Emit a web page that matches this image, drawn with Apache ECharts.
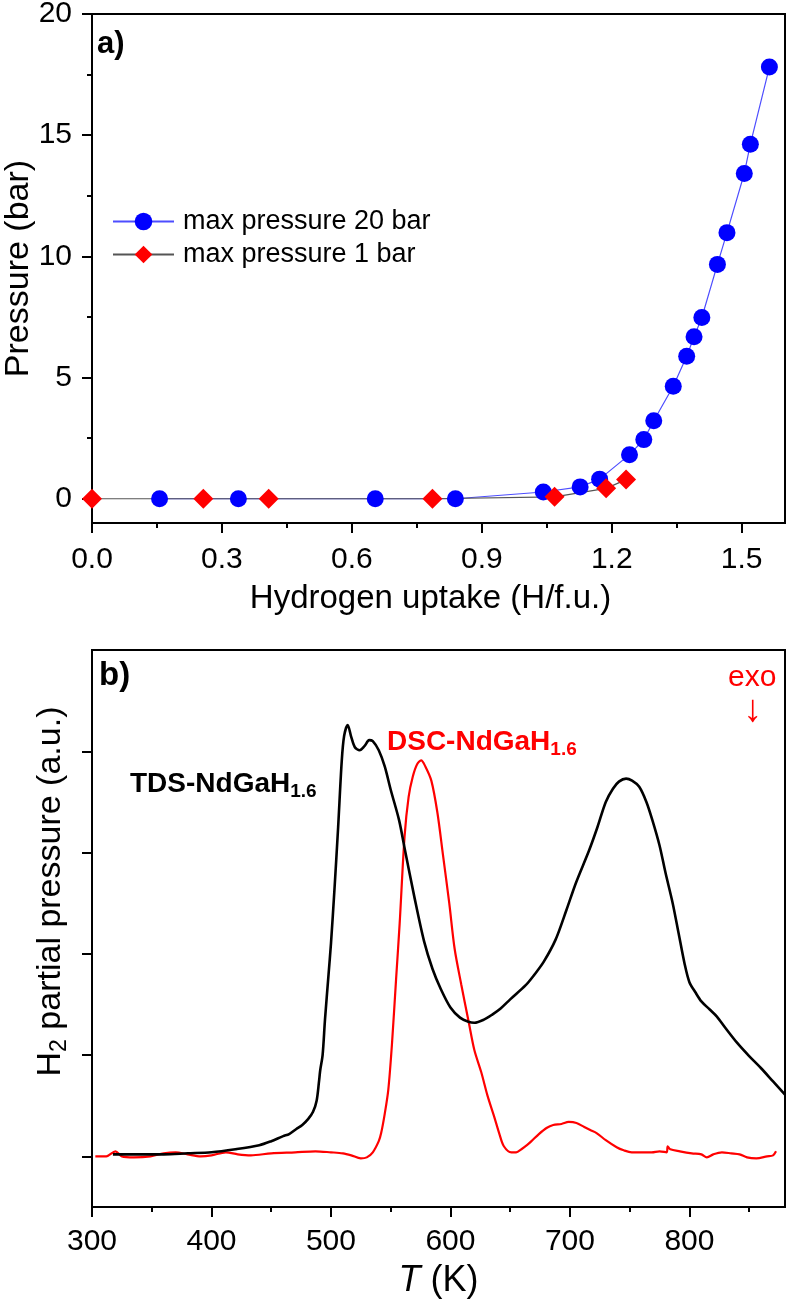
<!DOCTYPE html>
<html><head><meta charset="utf-8">
<script src="https://cdn.jsdelivr.net/npm/echarts@6/dist/echarts.min.js"></script>
<style>html,body{margin:0;padding:0;background:#fff}#c{width:787px;height:1299px}</style>
</head><body><div id="c"></div>
<script>
const FONT = 'Liberation Sans, Arial, Helvetica, sans-serif';

// ---------- Panel a) ----------
const uptake20   = [0.156, 0.338, 0.654, 0.839, 1.042, 1.127, 1.172, 1.241, 1.274, 1.297, 1.342, 1.373, 1.390, 1.408, 1.444, 1.466, 1.506, 1.520, 1.564];
const pressure20 = [0, 0, 0, 0, 0.28, 0.49, 0.81, 1.82, 2.44, 3.22, 4.64, 5.88, 6.68, 7.48, 9.67, 10.98, 13.42, 14.63, 17.81];
const uptake1    = [0.0, 0.257, 0.408, 0.786, 1.068, 1.187, 1.233];
const pressure1  = [0, 0, 0, 0, 0.08, 0.43, 0.79];
const xTicksA = [0, 0.3, 0.6, 0.9, 1.2, 1.5];
const xMinorA = [0.15, 0.45, 0.75, 1.05, 1.35];
const yTicksA = [0, 5, 10, 15, 20];
const yMinorA = [2.5, 7.5, 12.5, 17.5];

// ---------- Panel b) ----------
const tdsT = [317.5, 330, 340, 360, 380, 400, 420, 440, 450, 460, 465, 471, 476, 481, 485, 488, 490, 491, 493, 495, 498, 500, 503, 506, 509, 511, 514, 517, 520, 524, 528, 532, 535, 540, 545, 550, 557, 562, 570, 578, 585, 592, 600, 608, 615, 620, 628, 635, 642, 650, 663, 670, 678, 688, 697, 705, 716, 723, 730, 736, 741, 747, 752, 758, 764, 769, 775, 780, 786, 791, 796, 800, 805, 810, 817, 823, 830, 840, 850, 860, 870, 880];
const tdsP = [0.02, 0.02, 0.02, 0.02, 0.03, 0.04, 0.07, 0.11, 0.15, 0.20, 0.22, 0.27, 0.31, 0.37, 0.44, 0.55, 0.74, 0.85, 1.00, 1.35, 1.80, 2.10, 2.65, 3.25, 3.90, 4.15, 4.26, 4.14, 4.04, 4.01, 4.05, 4.11, 4.10, 4.01, 3.85, 3.62, 3.32, 3.02, 2.55, 2.12, 1.85, 1.65, 1.47, 1.37, 1.33, 1.32, 1.35, 1.40, 1.46, 1.55, 1.69, 1.79, 1.92, 2.14, 2.43, 2.70, 3.02, 3.25, 3.50, 3.63, 3.70, 3.73, 3.71, 3.65, 3.50, 3.32, 3.07, 2.80, 2.50, 2.20, 1.90, 1.72, 1.62, 1.53, 1.45, 1.38, 1.27, 1.12, 0.99, 0.87, 0.74, 0.61];
const dscT = [302.8, 312, 319.6, 325, 335, 349, 360, 370, 380, 391, 400, 412, 422, 433, 450, 470, 487, 500, 510, 517, 525, 530, 535, 540, 542, 545, 548, 551, 554.5, 557.5, 561.6, 565, 568.5, 572, 575.5, 579, 584, 589, 593.6, 599, 603.5, 609, 615.4, 620, 625.8, 631, 636.4, 641, 644.7, 651, 655, 659.4, 664, 667.8, 674, 680.4, 686, 692.9, 699, 705.5, 712, 717, 722.3, 730, 739.1, 745, 751.7, 760, 768.5, 775, 781, 781.8, 784, 792, 802, 810, 814.6, 820, 827.2, 835, 842, 848.2, 856, 865, 870, 872.5];
const dscP = [0.00, 0.00, 0.05, 0.00, -0.01, 0.00, 0.03, 0.04, 0.02, 0.00, 0.01, 0.04, 0.02, 0.01, 0.03, 0.04, 0.05, 0.04, 0.03, 0.01, -0.02, -0.01, 0.04, 0.15, 0.23, 0.42, 0.66, 1.10, 1.75, 2.30, 3.16, 3.55, 3.75, 3.87, 3.91, 3.85, 3.71, 3.40, 2.99, 2.50, 2.05, 1.70, 1.32, 1.05, 0.83, 0.60, 0.40, 0.22, 0.10, 0.04, 0.04, 0.07, 0.11, 0.15, 0.22, 0.28, 0.31, 0.32, 0.34, 0.33, 0.29, 0.26, 0.23, 0.16, 0.09, 0.06, 0.04, 0.04, 0.04, 0.05, 0.04, 0.10, 0.07, 0.05, 0.03, 0.02, -0.01, 0.02, 0.04, 0.03, 0.02, -0.01, -0.02, 0.00, 0.01, 0.05];
const xTicksB = [300, 400, 500, 600, 700, 800];
const xMinorB = [350, 450, 550, 650, 750, 850];
const yTicksB = [0, 1, 2, 3, 4];

const zip = (a, b) => a.map((v, i) => [v, b[i]]);

const axisLineStyle = { show: true, onZero: false, lineStyle: { color: '#000', width: 2 } };
const majorTick = vals => ({ show: true, inside: false, length: 10, customValues: vals, lineStyle: { color: '#000', width: 2 } });
const minorTickAxis = (grid, min, max, vals, pos) => ({
  type: 'value', gridIndex: grid, min: min, max: max, position: pos,
  axisLine: { show: false, onZero: false },
  axisTick: { show: true, inside: false, length: 5, customValues: vals, lineStyle: { color: '#000', width: 2 } },
  axisLabel: { show: false }, splitLine: { show: false }
});
const labelStyle = { color: '#000', fontSize: 30, fontFamily: FONT };

const option = {
  animation: false,
  backgroundColor: '#fff',
  grid: [
    { left: 92, right: 2, top: 14, height: 509, show: true, borderColor: '#000', borderWidth: 2, backgroundColor: 'transparent', containLabel: false, outerBoundsMode: 'none' },
    { left: 92, right: 2, top: 650, height: 557, show: true, borderColor: '#000', borderWidth: 2, backgroundColor: 'transparent', containLabel: false, outerBoundsMode: 'none' }
  ],
  xAxis: [
    { type: 'value', gridIndex: 0, min: 0, max: 1.6, position: 'bottom',
      axisLine: axisLineStyle, axisTick: majorTick(xTicksA),
      axisLabel: Object.assign({ customValues: xTicksA, margin: 22, formatter: v => v.toFixed(1) }, labelStyle),
      splitLine: { show: false },
      name: 'Hydrogen uptake (H/f.u.)', nameLocation: 'middle', nameGap: 59,
      nameTextStyle: { color: '#000', fontSize: 33, fontFamily: FONT, padding: [0, 16, 0, 0] } },
    minorTickAxis(0, 0, 1.6, xMinorA, 'bottom'),
    { type: 'value', gridIndex: 1, min: 300, max: 880, position: 'bottom',
      axisLine: axisLineStyle, axisTick: majorTick(xTicksB),
      axisLabel: Object.assign({ customValues: xTicksB, margin: 20 }, labelStyle),
      splitLine: { show: false },
      name: '{i|T} (K)', nameLocation: 'middle', nameGap: 56,
      nameTextStyle: { color: '#000', fontSize: 36, fontFamily: FONT,
        rich: { i: { fontStyle: 'italic', fontSize: 36, fontFamily: FONT, color: '#000' } } } },
    minorTickAxis(1, 300, 880, xMinorB, 'bottom')
  ],
  yAxis: [
    { type: 'value', gridIndex: 0, min: -1, max: 20, position: 'left',
      axisLine: axisLineStyle, axisTick: majorTick(yTicksA),
      axisLabel: Object.assign({ customValues: yTicksA, margin: 20, align: 'right' }, labelStyle),
      splitLine: { show: false },
      name: 'Pressure (bar)', nameLocation: 'middle', nameGap: 56, nameMoveOverlap: false,
      nameTextStyle: { color: '#000', fontSize: 34, fontFamily: FONT } },
    minorTickAxis(0, -1, 20, yMinorA, 'left'),
    { type: 'value', gridIndex: 1, min: -0.5, max: 5, position: 'left',
      axisLine: axisLineStyle, axisTick: majorTick(yTicksB),
      axisLabel: { show: false },
      splitLine: { show: false },
      name: '{n|H}{s|2}{n| partial pressure (a.u.)}', nameLocation: 'middle', nameGap: 21,
      nameTextStyle: { color: '#000', fontSize: 34, fontFamily: FONT, padding: [0, 0, 0, 74],
        rich: {
          n: { fontSize: 34, fontFamily: FONT, color: '#000', lineHeight: 40, verticalAlign: 'middle' },
          s: { fontSize: 23, fontFamily: FONT, color: '#000', lineHeight: 18, verticalAlign: 'bottom' }
        } } }
  ],
  legend: {
    orient: 'vertical', left: 112, top: 208, padding: 0, itemWidth: 61, itemHeight: 22, itemGap: 6,
    data: ['max pressure 20 bar', 'max pressure 1 bar'],
    textStyle: { color: '#000', fontSize: 27, fontFamily: FONT, padding: [0, 0, 0, 4] }
  },
  series: [
    { name: 'max pressure 20 bar', type: 'line', xAxisIndex: 0, yAxisIndex: 0,
      data: zip(uptake20, pressure20), symbol: 'circle', symbolSize: 17,
      itemStyle: { color: '#0000ff' }, lineStyle: { color: '#4d4dff', width: 1.2 } },
    { name: 'max pressure 1 bar', type: 'line', xAxisIndex: 0, yAxisIndex: 0,
      data: zip(uptake1, pressure1), symbol: 'diamond', symbolSize: 20,
      itemStyle: { color: '#ff0000' }, lineStyle: { color: '#555', width: 1.2 } },
    { name: 'DSC-NdGaH1.6', type: 'line', xAxisIndex: 2, yAxisIndex: 2,
      data: zip(dscT, dscP), showSymbol: false, symbol: 'none', smooth: 0.3,
      lineStyle: { color: '#ff0000', width: 2.2 } },
    { name: 'TDS-NdGaH1.6', type: 'line', xAxisIndex: 2, yAxisIndex: 2,
      data: zip(tdsT, tdsP), showSymbol: false, symbol: 'none', smooth: 0.3,
      lineStyle: { color: '#000', width: 2.6 } }
  ],
  graphic: [
    { type: 'text', left: 97, top: 29, style: { text: 'a)', font: 'bold 31px ' + FONT, fill: '#000' } },
    { type: 'text', left: 99, top: 659, style: { text: 'b)', font: 'bold 33px ' + FONT, fill: '#000' } },
    { type: 'text', left: 130, top: 770, style: {
        text: '{m|TDS-NdGaH}{s|1.6}', fill: '#000',
        rich: { m: { font: 'bold 28px ' + FONT, fill: '#000', lineHeight: 34, verticalAlign: 'middle' },
                s: { font: 'bold 19px ' + FONT, fill: '#000', lineHeight: 12, verticalAlign: 'bottom' } } } },
    { type: 'text', left: 387, top: 728, style: {
        text: '{m|DSC-NdGaH}{s|1.6}', fill: '#ff0000',
        rich: { m: { font: 'bold 28px ' + FONT, fill: '#ff0000', lineHeight: 34, verticalAlign: 'middle' },
                s: { font: 'bold 19px ' + FONT, fill: '#ff0000', lineHeight: 12, verticalAlign: 'bottom' } } } },
    { type: 'text', left: 728, top: 663, style: { text: 'exo', font: '30px ' + FONT, fill: '#ff0000' } },
    { type: 'text', left: 743, top: 692, style: { text: '↓', font: '38px ' + FONT, fill: '#ff0000' } }
  ]
};

const chart = echarts.init(document.getElementById('c'), null, { renderer: 'canvas' });
chart.setOption(option);
</script>
</body></html>
